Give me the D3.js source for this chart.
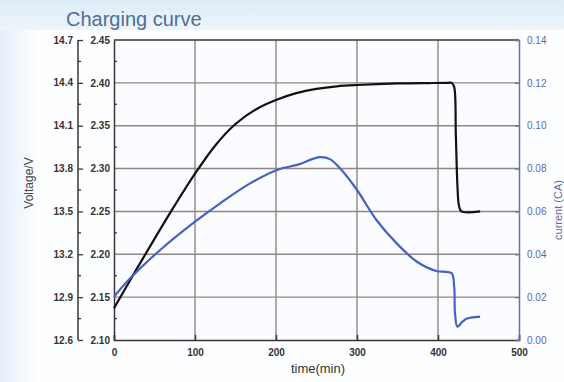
<!DOCTYPE html>
<html><head><meta charset="utf-8">
<script src="https://cdn.jsdelivr.net/npm/d3@7/dist/d3.min.js"></script>
<style>html,body{margin:0;padding:0;background:#fff;}svg{display:block;font-family:"Liberation Sans",Arial,sans-serif;}</style>
</head><body>
<script>
// ---- data ----
const titleText = "Charging curve";
const xTicks = [0, 100, 200, 300, 400, 500];
const cellTicks = [2.10, 2.15, 2.20, 2.25, 2.30, 2.35, 2.40, 2.45];
const packTickLabels = ["12.6", "12.9", "13.2", "13.5", "13.8", "14.1", "14.4", "14.7"];
const currentTicks = [0.00, 0.02, 0.04, 0.06, 0.08, 0.10, 0.12, 0.14];
const voltageTime = [0, 25, 50, 75, 100, 125, 150, 175, 200, 225, 250, 275, 300, 350, 390, 412, 417, 420, 422, 424, 426, 429, 452];
const voltageValues = [2.137, 2.178, 2.218, 2.257, 2.294, 2.327, 2.352, 2.369, 2.380, 2.388, 2.393, 2.396, 2.3975, 2.3993, 2.3998, 2.40, 2.40, 2.395, 2.34, 2.28, 2.256, 2.25, 2.25];
const currentTime = [0, 20, 57, 100, 131, 168, 203, 226, 254, 267, 279, 300, 324, 349, 374, 398, 410, 417, 420, 421, 424, 430, 436, 452];
const currentValues = [0.0202, 0.0288, 0.042, 0.0552, 0.0638, 0.0731, 0.0796, 0.0817, 0.0853, 0.0843, 0.0801, 0.070, 0.056, 0.0451, 0.0365, 0.0322, 0.0318, 0.0311, 0.0249, 0.0124, 0.0062, 0.0085, 0.0100, 0.0109];

const W = 564, H = 382;
const svg = d3.select("body").append("svg").attr("width", W).attr("height", H);
const defs = svg.append("defs");
const gTop = defs.append("linearGradient").attr("id", "gTop").attr("x1", 0).attr("y1", 0).attr("x2", 0).attr("y2", 1);
gTop.append("stop").attr("offset", "0%").attr("stop-color", "#dcebf7");
gTop.append("stop").attr("offset", "100%").attr("stop-color", "#eef5fb");
const gLeft = defs.append("linearGradient").attr("id", "gLeft").attr("x1", 0).attr("y1", 0).attr("x2", 1).attr("y2", 0);
gLeft.append("stop").attr("offset", "0%").attr("stop-color", "#e4effa");
gLeft.append("stop").attr("offset", "100%").attr("stop-color", "#ffffff");

svg.append("rect").attr("width", W).attr("height", H).attr("fill", "#fdfeff");
svg.append("rect").attr("x", 0).attr("y", 0).attr("width", 40).attr("height", H).attr("fill", "url(#gLeft)");
svg.append("rect").attr("x", 0).attr("y", 0).attr("width", W).attr("height", 30).attr("fill", "url(#gTop)");

const x0 = 114, x1 = 519, y0 = 340, y1 = 40;
const x = d3.scaleLinear().domain([0, 500]).range([x0, x1]);
const yV = d3.scaleLinear().domain([2.10, 2.45]).range([y0, y1]);
const yI = d3.scaleLinear().domain([0, 0.14]).range([y0, y1]);

svg.append("rect").attr("x", x0).attr("y", y1).attr("width", x1 - x0).attr("height", y0 - y1).attr("fill", "#fafcff");

// grid
const gridC = "#8f8782";
svg.append("g").selectAll("line").data(xTicks.slice(1, -1)).join("line")
  .attr("x1", d => x(d)).attr("x2", d => x(d)).attr("y1", y1).attr("y2", y0)
  .attr("stroke", gridC).attr("stroke-width", 1.4);
svg.append("g").selectAll("line").data(cellTicks.slice(1, -1)).join("line")
  .attr("x1", x0).attr("x2", x1).attr("y1", d => yV(d)).attr("y2", d => yV(d))
  .attr("stroke", gridC).attr("stroke-width", 1.4);

// frame
const axC = "#3a3634";
svg.append("line").attr("x1", x0).attr("x2", x1).attr("y1", y1).attr("y2", y1).attr("stroke", axC).attr("stroke-width", 1.5);

// bottom axis
const xAxis = svg.append("g").attr("transform", `translate(0,${y0})`)
  .call(d3.axisBottom(x).tickValues(xTicks).tickSize(-5).tickPadding(9).tickFormat(d3.format("d")));
xAxis.select(".domain").attr("stroke", axC).attr("stroke-width", 1.5);
xAxis.selectAll(".tick line").attr("stroke", axC).attr("stroke-width", 1.5);
xAxis.selectAll("text").attr("fill", "#333").attr("font-size", 10).attr("font-weight", "bold");

// inner left axis (cell voltage)
const minorV = d3.range(0, 7).map(i => 2.125 + i * 0.05);
const yAxisIn = svg.append("g").attr("transform", `translate(${x0},0)`)
  .call(d3.axisLeft(yV).tickValues(cellTicks).tickSize(0).tickPadding(4).tickFormat(d3.format(".2f")));
yAxisIn.select(".domain").attr("stroke", axC).attr("stroke-width", 1.5);
yAxisIn.selectAll("text").attr("fill", "#333").attr("font-size", 10).attr("font-weight", "bold");
svg.append("g").selectAll("line").data(minorV).join("line")
  .attr("x1", x0).attr("x2", x0 + 3).attr("y1", d => yV(d)).attr("y2", d => yV(d))
  .attr("stroke", axC).attr("stroke-width", 1.3);

// outer left axis (pack voltage)
const xo = 78;
const yAxisOut = svg.append("g").attr("transform", `translate(${xo},0)`)
  .call(d3.axisRight(yV).tickValues(cellTicks).tickSize(5).tickFormat(""));
yAxisOut.select(".domain").attr("stroke", axC).attr("stroke-width", 1.5).attr("d", `M0,${y1}V${y0}`);
yAxisOut.selectAll(".tick line").attr("stroke", axC).attr("stroke-width", 1.3);
svg.append("g").selectAll("line").data(minorV).join("line")
  .attr("x1", xo).attr("x2", xo + 3).attr("y1", d => yV(d)).attr("y2", d => yV(d))
  .attr("stroke", axC).attr("stroke-width", 1.3);
svg.append("g").selectAll("text").data(cellTicks).join("text")
  .attr("x", xo - 5).attr("y", d => yV(d)).attr("dy", "0.35em").attr("text-anchor", "end")
  .attr("fill", "#333").attr("font-size", 10).attr("font-weight", "bold")
  .text((d, i) => packTickLabels[i]);

// right axis (current)
const rC = "#6b6db8";
const yAxisR = svg.append("g").attr("transform", `translate(${x1},0)`)
  .call(d3.axisRight(yI).tickValues(currentTicks).tickSize(-4).tickPadding(8).tickFormat(d3.format(".2f")));
yAxisR.select(".domain").attr("stroke", rC).attr("stroke-width", 1.5);
yAxisR.selectAll(".tick line").attr("stroke", rC).attr("stroke-width", 1.3);
yAxisR.selectAll("text").attr("fill", "#5f66b0").attr("font-size", 10);

// curves
const lineV = d3.line().x((d, i) => x(voltageTime[i])).y(d => yV(d)).curve(d3.curveCatmullRom.alpha(0.5));
svg.append("path").datum(voltageValues).attr("d", lineV).attr("fill", "none")
  .attr("stroke", "#111").attr("stroke-width", 2.2);
const lineI = d3.line().x((d, i) => x(currentTime[i])).y(d => yI(d)).curve(d3.curveCatmullRom.alpha(0.5));
svg.append("path").datum(currentValues).attr("d", lineI).attr("fill", "none")
  .attr("stroke", "#4a5fc4").attr("stroke-width", 2.2);

// labels
svg.append("text").attr("x", 66).attr("y", 26).attr("fill", "#4e6f96").attr("font-size", 20).text(titleText);
svg.append("text").attr("x", 318).attr("y", 373).attr("text-anchor", "middle").attr("fill", "#333").attr("font-size", 13).text("time(min)");
svg.append("text").attr("transform", "translate(33,183) rotate(-90)").attr("text-anchor", "middle")
  .attr("fill", "#444").attr("font-size", 12).text("Voltage/V");
svg.append("text").attr("transform", "translate(562,210) rotate(-90)").attr("text-anchor", "middle")
  .attr("fill", "#5f66b0").attr("font-size", 11).text("current (CA)");
</script>
</body></html>
